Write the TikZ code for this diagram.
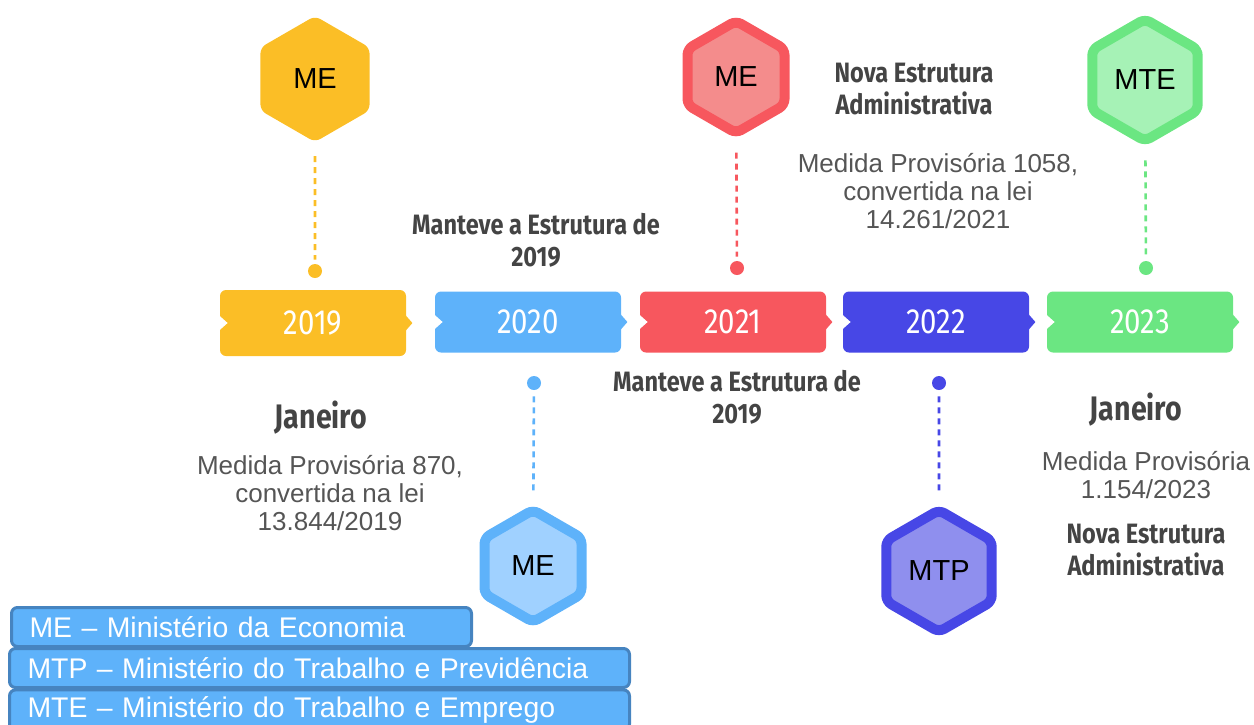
\documentclass[tikz,border=0pt]{standalone}
\usepackage{fontspec}
\setmainfont{Liberation Sans}
\newfontfamily\firacond[FakeStretch=0.84]{Fira Sans}
\usetikzlibrary{positioning, shapes.geometric, calc}
\definecolor{amarelo}{RGB}{251,190,38}
\definecolor{azul}{RGB}{94,178,250}
\definecolor{azulclaro}{RGB}{160,209,255}
\definecolor{vermelho}{RGB}{247,87,94}
\definecolor{vermelhoclaro}{RGB}{244,140,140}
\definecolor{anil}{RGB}{71,71,230}
\definecolor{anilclaro}{RGB}{143,143,238}
\definecolor{verde}{RGB}{107,230,130}
\definecolor{verdeclaro}{RGB}{166,242,182}
\definecolor{borda}{RGB}{70,132,192}
\definecolor{texto}{RGB}{85,85,85}
\definecolor{titulo}{RGB}{68,68,68}
\tikzset{
  ano/.style={rounded corners=3pt, minimum width=93pt, minimum height=30.5pt, text=white, font=\firacond\fontsize{17.5}{19}\selectfont},
  hexa/.style={regular polygon, regular polygon sides=6, shape border rotate=30, minimum size=56pt, line width=5pt, rounded corners=3pt, font=\fontsize{14.5}{16}\selectfont},
  ponto/.style={circle, minimum size=7pt, inner sep=0pt},
  tracejado/.style={line width=1.3pt, dash pattern=on 3pt off 2.5pt, shorten <=7pt, shorten >=2pt},
  negrito/.style={align=center, text=titulo, font=\firacond\bfseries\fontsize{14}{16}\selectfont},
  corpo/.style={align=center, text=texto, font=\fontsize{13}{14}\selectfont},
  leg/.style={draw=borda, line width=1.5pt, fill=azul, rounded corners=3pt, text=white, anchor=west, align=left, inner xsep=9pt, minimum height=19.5pt, font=\fontsize{14.2}{15}\selectfont}
}
\newcommand{\entalhe}[2]{%
  \fill[white] ($(#1.west)+(-1,-8)$) -- ++(9,8) -- ++(-9,8) -- cycle;
  \fill[#2] ($(#1.east)+(-1,-8)$) -- ++(7,8) -- ++(-7,8) -- cycle;
}
\begin{document}
\begin{tikzpicture}[x=0.5pt, y=-0.5pt]
  \useasboundingbox (0,0) rectangle (1254,724);

  % anos
  \node[ano, fill=amarelo, minimum height=33pt] (a2019) at (313,323) {2019};
  \node[ano, fill=azul] (a2020) at (528,322) {2020};
  \node[ano, fill=vermelho] (a2021) at (733,322) {2021};
  \node[ano, fill=anil] (a2022) at (936,322) {2022};
  \node[ano, fill=verde] (a2023) at (1140,322) {2023};
  \entalhe{a2019}{amarelo}
  \entalhe{a2020}{azul}
  \entalhe{a2021}{vermelho}
  \entalhe{a2022}{anil}
  \entalhe{a2023}{verde}

  % hexagonos
  \node[hexa, fill=amarelo, minimum size=63pt, line width=0pt] (h2019) at (315,79) {ME};
  \node[hexa, draw=azul, fill=azulclaro] (h2020) at (533,566) {ME};
  \node[hexa, draw=vermelho, fill=vermelhoclaro] (h2021) at (736,77) {ME};
  \node[hexa, draw=anil, fill=anilclaro] (h2022) at (939,571) {MTP};
  \node[hexa, draw=verde, fill=verdeclaro] (h2023) at (1145,80) {MTE};

  % pontos
  \node[ponto, fill=amarelo] (p2019) at (315,271) {};
  \node[ponto, fill=azul] (p2020) at (534,383) {};
  \node[ponto, fill=vermelho] (p2021) at (737,268) {};
  \node[ponto, fill=anil] (p2022) at (939,383) {};
  \node[ponto, fill=verde] (p2023) at (1146,268) {};

  \draw[tracejado, amarelo] (h2019) -- (p2019);
  \draw[tracejado, azul] (h2020) -- (p2020);
  \draw[tracejado, vermelho] (h2021) -- (p2021);
  \draw[tracejado, anil] (h2022) -- (p2022);
  \draw[tracejado, verde] (h2023) -- (p2023);

  % textos
  \node[negrito, font=\firacond\bfseries\fontsize{17}{19}\selectfont] (jan2019) at (321,418) {Janeiro};
  \node[corpo] (mp870) at (330,493) {Medida Provisória 870,\\convertida na lei\\13.844/2019};
  \node[negrito] (man2020) at (536,240) {Manteve a Estrutura de\\2019};
  \node[negrito] (man2021) at (737,397) {Manteve a Estrutura de\\2019};
  \node[negrito] (nova2022) at (914,89) {Nova Estrutura\\Administrativa};
  \node[corpo] (mp1058) at (938,191) {Medida Provisória 1058,\\convertida na lei\\14.261/2021};
  \node[negrito, font=\firacond\bfseries\fontsize{17}{19}\selectfont] (jan2023) at (1136,410) {Janeiro};
  \node[corpo] (mp1154) at (1146,475) {Medida Provisória\\1.154/2023};
  \node[negrito] (nova2023) at (1146,550) {Nova Estrutura\\Administrativa};

  % legenda
  \node[leg, text width=212pt] (leg1) at (10,627) {ME – Ministério da Economia};
  \node[leg, text width=292pt] (leg2) at (8,668) {MTP – Ministério do Trabalho e Previdência};
  \node[leg, text width=292pt] (leg3) at (8,710) {MTE – Ministério do Trabalho e Emprego};
\end{tikzpicture}
\end{document}
